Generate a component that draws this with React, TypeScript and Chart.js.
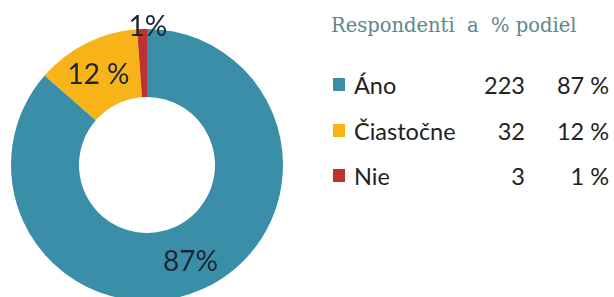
import React, { useEffect, useRef } from "react";
import { Chart, registerables } from "chart.js";

Chart.register(...registerables);

const categories = ["Áno", "Čiastočne", "Nie"];
const counts = [223, 32, 3];
const percentLabels = ["87%", "12 %", "1%"];
const legendPercents = ["87 %", "12 %", "1 %"];
const colors = ["#3a8ea8", "#f8b318", "#c0312e"];
const title = "Respondenti\u00a0 a\u00a0 % podiel";

// label placement as fraction of ring: 0.5 = middle of ring, >1 outside
const labelRadiusFactor = [0.55, 0.5, 1.05];

const labelPlugin = {
  id: "sliceLabels",
  afterDatasetsDraw(chart: any) {
    const ctx = chart.ctx;
    const meta = chart.getDatasetMeta(0);
    ctx.save();
    ctx.font = "28px Lato";
    ctx.fillStyle = "#1a2733";
    ctx.textAlign = "center";
    ctx.textBaseline = "middle";
    meta.data.forEach((arc: any, i: number) => {
      const p = arc.getProps(["x", "y", "startAngle", "endAngle", "innerRadius", "outerRadius"], true);
      const mid = (p.startAngle + p.endAngle) / 2;
      const r = p.innerRadius + (p.outerRadius - p.innerRadius) * labelRadiusFactor[i];
      const dx = i === 2 ? 6 : i === 1 ? -3 : 0;
      ctx.fillText(percentLabels[i], p.x + Math.cos(mid) * r + dx, p.y + Math.sin(mid) * r + 1);
    });
    ctx.restore();
  },
};

export default function App() {
  const ref = useRef<HTMLCanvasElement>(null);
  useEffect(() => {
    if (!ref.current) return;
    const chart = new Chart(ref.current, {
      type: "doughnut",
      data: {
        labels: categories,
        datasets: [
          {
            data: counts,
            backgroundColor: colors,
            borderWidth: 0,
          },
        ],
      },
      options: {
        responsive: false,
        animation: false,
        devicePixelRatio: 1,
        cutout: "50%",
        layout: { padding: { left: 11, right: 17, top: 29, bottom: 9 } },
        plugins: {
          legend: { display: false },
          tooltip: { enabled: false },
        },
      },
      plugins: [labelPlugin],
    });
    return () => chart.destroy();
  }, []);

  const rowTops = [72, 118, 163];
  return (
    <div
      style={{
        position: "fixed",
        left: 0,
        top: 0,
        width: 614,
        height: 297,
        overflow: "hidden",
        background: "#fff",
      }}
    >
      <canvas ref={ref} width={300} height={310} style={{ position: "absolute", left: 0, top: 0 }} />
      <div
        style={{
          position: "absolute",
          left: 331,
          top: 16,
          fontFamily: "'DejaVu Serif', serif",
          fontSize: 19.5,
          lineHeight: "20px",
          color: "#5a888e",
          whiteSpace: "pre",
        }}
      >
        {title}
      </div>
      {categories.map((c, i) => (
        <div
          key={c}
          style={{
            position: "absolute",
            left: 333,
            top: rowTops[i],
            width: 276,
            height: 26,
            fontFamily: "Lato, sans-serif",
            fontSize: 23.5,
            color: "#222",
            lineHeight: "26px",
          }}
        >
          <span
            style={{
              position: "absolute",
              left: 0,
              top: 6,
              width: 12,
              height: 13,
              background: colors[i],
            }}
          />
          <span style={{ position: "absolute", left: 21 }}>{c}</span>
          <span style={{ position: "absolute", right: 84, textAlign: "right" }}>{counts[i]}</span>
          <span style={{ position: "absolute", right: 0, textAlign: "right" }}>{legendPercents[i]}</span>
        </div>
      ))}
    </div>
  );
}
